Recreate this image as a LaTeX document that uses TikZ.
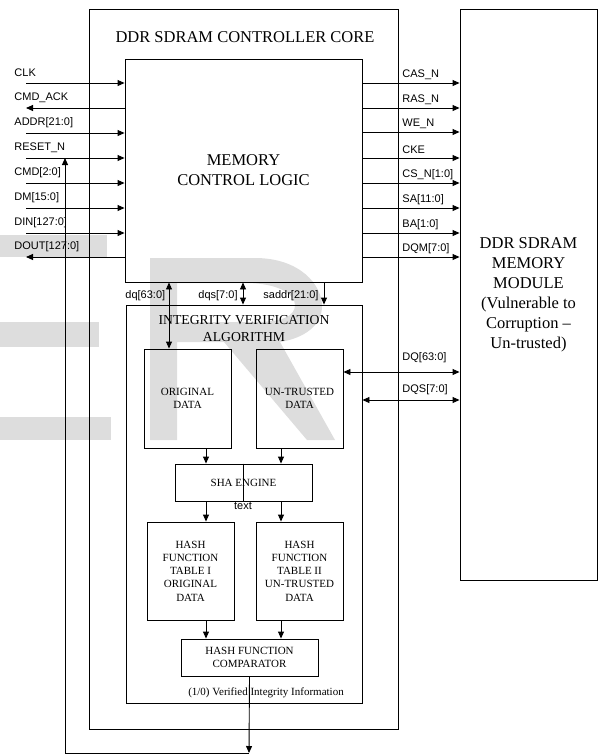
\documentclass[tikz,border=0pt]{standalone}
\usepackage{fontspec}
\setmainfont{Liberation Serif}
\setsansfont{Liberation Sans}
\usetikzlibrary{arrows.meta}
\definecolor{wm}{RGB}{221,221,221}
\begin{document}
\begin{tikzpicture}[x=1pt,y=-1pt,
  line width=0.9pt,
  arr/.style={-{Triangle[length=7pt,width=6pt]}},
  darr/.style={{Triangle[length=7pt,width=6pt]}-{Triangle[length=7pt,width=6pt]}},
  box/.style={draw,rectangle,inner sep=0pt,align=center},
  sig/.style={font=\sffamily\fontsize{11}{12}\selectfont,inner sep=0pt,anchor=west},
  big/.style={font=\fontsize{16.5}{20}\selectfont,align=center,inner sep=0pt},
  mid/.style={font=\fontsize{13.7}{17}\selectfont,align=center,inner sep=0pt},
  sm/.style={font=\fontsize{11}{13.3}\selectfont,align=center}
]
\useasboundingbox (0,0) rectangle (601,755);
% watermark
\fill[wm] (0,235) rectangle (107,257);
\fill[wm] (0,322) rectangle (99,347);
\fill[wm] (0,417) rectangle (111,440);
\fill[wm, even odd rule] (150,440) -- (150,258) -- (255,258)
  .. controls (300,258) and (322,285) .. (322,306)
  .. controls (322,325) and (305,338) .. (280,342) -- (335,440) -- (307,440)
  -- (224,342) -- (177,342) -- (177,440) -- cycle
  (177,283) -- (245,283) .. controls (280,283) and (295,295) .. (295,305)
  .. controls (295,316) and (283,322) .. (255,322) -- (177,322) -- cycle;

% boxes
\node[box,minimum width=309,minimum height=720] (core) at (243.5,369) {};
\node[big] (coret) at (245,37) {DDR SDRAM CONTROLLER CORE};
\node[box,big,minimum width=237,minimum height=223] (mcl) at (243.5,170.5) {MEMORY\\CONTROL LOGIC};
\node[box,big,minimum width=137,minimum height=571] (mem) at (528.5,294.5) {DDR SDRAM\\MEMORY\\MODULE\\(Vulnerable to\\Corruption --\\Un-trusted)};
\node[box,minimum width=236,minimum height=398] (ivb) at (244,504) {};
\node[mid] (ivt) at (244,328.5) {INTEGRITY VERIFICATION\\ALGORITHM};
\node[box,sm,minimum width=87,minimum height=99] (orig) at (187.5,398.5) {ORIGINAL\\DATA};
\node[box,sm,minimum width=87,minimum height=99] (untr) at (299.5,398.5) {UN-TRUSTED\\DATA};
\node[box,sm,minimum width=137,minimum height=37] (sha) at (243.5,482.5) {SHA ENGINE};
\node[box,sm,minimum width=87,minimum height=98] (ht1) at (190.5,571) {HASH\\FUNCTION\\TABLE I\\ORIGINAL\\DATA};
\node[box,sm,minimum width=87,minimum height=98] (ht2) at (299.5,571) {HASH\\FUNCTION\\TABLE II\\UN-TRUSTED\\DATA};
\node[box,sm,minimum width=137,minimum height=37] (cmp) at (249.5,657.5) {HASH FUNCTION\\COMPARATOR};
\node[sm,inner sep=0pt] (vii) at (266,693) {(1/0) Verified Integrity Information};
\draw (sha.north) -- (sha.south);
\node[sig,anchor=center] (txt) at (243,506) {text};

% left signals
\foreach \y/\t/\d [count=\i] in {83/CLK/in,108/CMD\_ACK/out,133/ADDR[21:0]/in,158/RESET\_N/in,183/CMD[2:0]/in,208/DM[15:0]/in,233/DIN[127:0]/in,257/DOUT[127:0]/out}{
  \coordinate (ls\i) at (26,\y);
  \node[sig] (lt\i) at (14,\y-10) {\t};
  \ifnum\pdfstrcmp{\d}{in}=0
    \draw[arr] (ls\i) -- (ls\i -| mcl.west);
  \else
    \draw[arr] (ls\i -| mcl.west) -- (ls\i);
  \fi
}
% right signals
\foreach \y/\t [count=\i] in {83/CAS\_N,108/RAS\_N,132/WE\_N,158/CKE,183/CS\_N[1:0],208/SA[11:0],233/BA[1:0],257/DQM[7:0]}{
  \coordinate (rs\i) at (0,\y);
  \node[sig] (rt\i) at (402,\y-8) {\t};
  \draw[arr] (rs\i -| mcl.east) -- (rs\i -| mem.west);
}
% DQ / DQS
\coordinate (dqy) at (0,372);
\coordinate (dqsy) at (0,400);
\draw[darr] (dqy -| untr.east) -- (dqy -| mem.west);
\draw[darr] (dqsy -| ivb.east) -- (dqsy -| mem.west);
\node[sig] (dqt) at (402,357.5) {DQ[63:0]};
\node[sig] (dqst) at (402,390) {DQS[7:0]};

% internal buses
\coordinate (xdq) at (169,0);
\coordinate (xdqs) at (243,0);
\coordinate (xsa) at (324,0);
\draw[darr] (xdq |- mcl.south) -- (xdq |- orig.north);
\draw[darr] (xdqs |- mcl.south) -- (xdqs |- ivb.north);
\draw[arr] (xsa |- mcl.south) -- (xsa |- ivb.north);
\node[sig] (dqlt) at (125,296) {dq[63:0]};
\node[sig] (dqslt) at (198,296) {dqs[7:0]};
\node[sig] (salt) at (263,296) {saddr[21:0]};

% flow
\coordinate (xa) at (206,0);
\coordinate (xb) at (281,0);
\draw[arr] (xa |- orig.south) -- (xa |- sha.north);
\draw[arr] (xb |- untr.south) -- (xb |- sha.north);
\draw[arr] (xa |- sha.south) -- (xa |- ht1.north);
\draw[arr] (xb |- sha.south) -- (xb |- ht2.north);
\draw[arr] (xa |- ht1.south) -- (xa |- cmp.north);
\draw[arr] (xb |- ht2.south) -- (xb |- cmp.north);

% feedback
\coordinate (fb1) at (249,753);
\coordinate (fb2) at (65,753);
\coordinate (fb3) at (65,158);
\draw[arr] (cmp.south) -- (fb1);
\draw[arr] (fb1) -- (fb2) -- (fb3);
\end{tikzpicture}
\end{document}
